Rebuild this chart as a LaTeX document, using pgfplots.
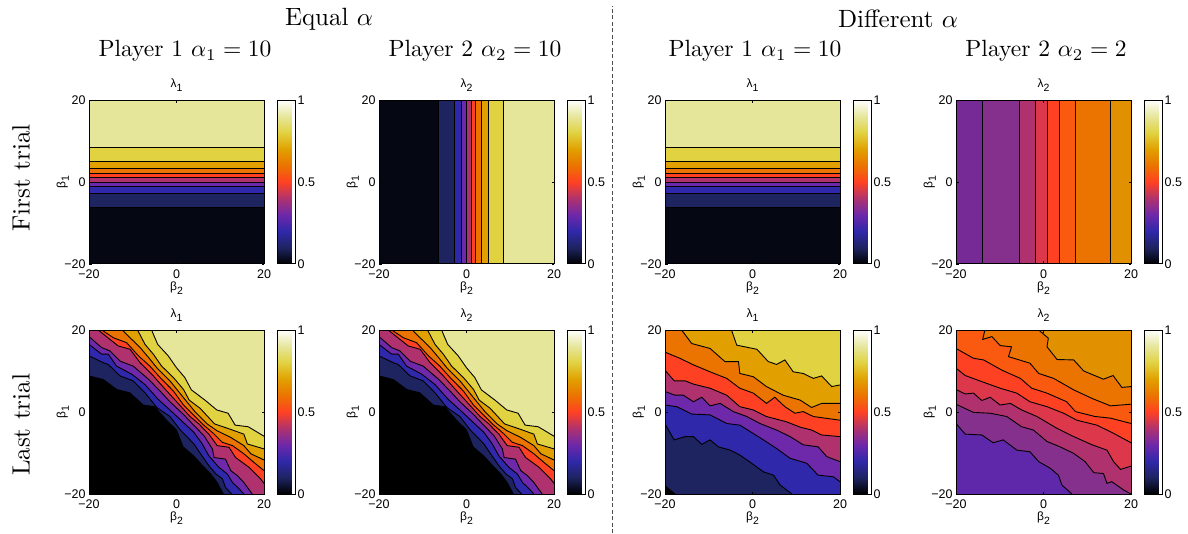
\documentclass[border=0pt]{standalone}
\usepackage{fontspec}
\usepackage{pgfplots}
\pgfplotsset{compat=1.18}
\newfontfamily\lsf{Liberation Sans}
\newcommand\tickf{\fontsize{12.5}{14}\lsf}
\newcommand\gl[2]{{\fontsize{12}{14}\lsf #1\raisebox{-3.5pt}{\fontsize{10.5}{12}\lsf #2}}}
\definecolor{k0}{RGB}{0,0,0}
\definecolor{k1}{RGB}{5,8,18}
\definecolor{cn}{RGB}{29,36,96}
\definecolor{cb}{RGB}{48,40,170}
\definecolor{cv}{RGB}{95,40,170}
\definecolor{cp}{RGB}{110,40,170}
\definecolor{cq}{RGB}{118,42,150}
\definecolor{cr}{RGB}{133,48,140}
\definecolor{cm}{RGB}{175,50,110}
\definecolor{cs}{RGB}{220,55,75}
\definecolor{ct}{RGB}{255,65,35}
\definecolor{cu}{RGB}{250,90,15}
\definecolor{co}{RGB}{235,115,0}
\definecolor{cg}{RGB}{225,160,0}
\definecolor{ch}{RGB}{225,145,0}
\definecolor{cy}{RGB}{225,210,65}
\definecolor{cw}{RGB}{230,230,155}
\pgfplotsset{
  colormap={lam}{rgb255(0)=(0,0,0) rgb255(1)=(29,36,96) rgb255(2)=(48,40,170) rgb255(3)=(110,40,170) rgb255(4)=(175,50,110) rgb255(5)=(255,65,35) rgb255(6)=(235,115,0) rgb255(7)=(225,160,0) rgb255(8)=(225,210,65) rgb255(9)=(230,230,155) rgb255(10)=(255,255,255)},
  pan/.style={
    scale only axis, width=175pt, height=164pt, anchor=south west,
    xmin=-20,xmax=20,ymin=-20,ymax=20,
    xtick={-20,0,20},ytick={-20,0,20},
    xticklabels={−20,0,20},yticklabels={−20,0,20},
    tick align=inside, major tick length=2.5pt,
    axis line style={line width=1pt}, tick style={line width=.6pt,black},
    tick label style={font=\tickf},
    xticklabel style={yshift=-2pt}, yticklabel style={xshift=0pt},
    axis on top,
    every axis title/.style={at={(axis description cs:0.5,1.09)},anchor=center},
    every axis x label/.style={at={(axis description cs:0.5,-0.146)},anchor=center},
    every axis y label/.style={at={(axis description cs:-0.15,0.5)},anchor=center,rotate=90},
    ylabel={\gl{β}{1}}, xlabel={\gl{β}{2}},
    colormap name=lam, point meta min=0, point meta max=1,
    colorbar,
    colorbar style={at={(1.075,1)},anchor=north west,width=18pt,
      ytick={0,0.5,1},yticklabels={0,0.5,1},major tick length=0pt,
      axis line style={line width=1pt},
      tick label style={font=\tickf},
      yticklabel style={xshift=-1pt}},
  }
}
\tikzset{hd/.style={anchor=center,font=\fontsize{10}{12}\selectfont,scale=#1}}
\newcommand\base[1]{\addplot[fill=#1,draw=none] coordinates {(-20,-20)(20,-20)(20,20)(-20,20)};}
\newcommand\lvl[3]{\addplot[fill=#1,draw=none] coordinates {#2 #3};\addplot[line width=.9pt,black] coordinates {#2};}
\newcommand\panelH{%
\base{k1}
\lvl{cn}{(-20,-6.3)(20,-6.3)}{(20,20)(-20,20)}
\lvl{cb}{(-20,-2.9)(20,-2.9)}{(20,20)(-20,20)}
\lvl{cp}{(-20,-1.2)(20,-1.2)}{(20,20)(-20,20)}
\lvl{cm}{(-20,-0.1)(20,-0.1)}{(20,20)(-20,20)}
\lvl{ct}{(-20,1.1)(20,1.1)}{(20,20)(-20,20)}
\lvl{co}{(-20,2)(20,2)}{(20,20)(-20,20)}
\lvl{cg}{(-20,3.3)(20,3.3)}{(20,20)(-20,20)}
\lvl{cy}{(-20,5)(20,5)}{(20,20)(-20,20)}
\lvl{cw}{(-20,8.4)(20,8.4)}{(20,20)(-20,20)}
}
\newcommand\panelV{%
\base{k1}
\lvl{cn}{(-6.4,20)(-6.4,-20)}{(20,-20)(20,20)}
\lvl{cb}{(-2.8,20)(-2.8,-20)}{(20,-20)(20,20)}
\lvl{cp}{(-1.1,20)(-1.1,-20)}{(20,-20)(20,20)}
\lvl{cm}{(0,20)(0,-20)}{(20,-20)(20,20)}
\lvl{ct}{(1.1,20)(1.1,-20)}{(20,-20)(20,20)}
\lvl{co}{(2.1,20)(2.1,-20)}{(20,-20)(20,20)}
\lvl{cg}{(3.4,20)(3.4,-20)}{(20,-20)(20,20)}
\lvl{cy}{(5,20)(5,-20)}{(20,-20)(20,20)}
\lvl{cw}{(8.4,20)(8.4,-20)}{(20,-20)(20,20)}
}
\newcommand\panelW{%
\base{cq}
\lvl{cr}{(-13.9,20)(-13.9,-20)}{(20,-20)(20,20)}
\lvl{cm}{(-5.5,20)(-5.5,-20)}{(20,-20)(20,20)}
\lvl{cs}{(-1.8,20)(-1.8,-20)}{(20,-20)(20,20)}
\lvl{ct}{(1,20)(1,-20)}{(20,-20)(20,20)}
\lvl{cu}{(3.7,20)(3.7,-20)}{(20,-20)(20,20)}
\lvl{co}{(7.4,20)(7.4,-20)}{(20,-20)(20,20)}
\lvl{ch}{(15.3,20)(15.3,-20)}{(20,-20)(20,20)}
}
\newcommand\panelA{%
\base{k0}
\lvl{cn}{(-20,8.8)(-16.7,7.9)(-13.7,5.5)(-10.7,4.7)(-7.6,1.7)(-5,1.3)(-2.3,-2)(0,-4.4)(1.5,-8.5)(3.8,-10.6)(5.9,-13)(7.8,-15.1)(9.3,-17.2)(10.7,-20)}{(20,-20)(20,20)(-20,20)}
\lvl{cb}{(-20,13.7)(-16.7,12)(-15.6,11.6)(-12.9,8.8)(-9.9,7.6)(-7.2,4.7)(-4.5,1.1)(-1.5,-1.1)(0.8,-4.3)(4,-7.8)(5.5,-10.2)(7.4,-13.1)(9,-15.1)(10.5,-16.3)(11.2,-18.4)(12.6,-20)}{(20,-20)(20,20)(-20,20)}
\lvl{cp}{(-20,16.5)(-17.1,14.1)(-15.6,14.1)(-13.7,11.2)(-10.2,9.2)(-7.2,6.7)(-4.2,3.1)(-1.5,0.5)(1.6,-2.6)(4,-5)(5.9,-7.8)(7.4,-10.7)(9.7,-13.5)(11.6,-15.1)(12.8,-17.2)(14,-18.4)(15.4,-20)}{(20,-20)(20,20)(-20,20)}
\lvl{cm}{(-20,18.4)(-17.1,15.7)(-15.2,14.9)(-12.9,12.4)(-9.9,11.2)(-6.4,8)(-3.4,4.7)(-1.5,2.5)(1.6,-0.6)(4,-3.3)(6.3,-5.8)(8.2,-9)(8.6,-11.1)(11.2,-11.5)(12.4,-14.3)(13.9,-15.5)(15.4,-17.2)(17.3,-20)}{(20,-20)(20,20)(-20,20)}
\lvl{ct}{(-17.9,20)(-15.2,17.7)(-13.3,16.1)(-10.6,15.3)(-8.3,12)(-5.3,8.8)(-2.2,5.1)(-0.3,2.9)(3.1,-1.1)(5.1,-2.9)(7.4,-5.4)(9.3,-8.2)(12,-8.6)(13.5,-11.1)(16.6,-13.5)(19.2,-16.3)(20,-17.4)}{(20,20)}
\lvl{co}{(-17.1,20)(-14.4,18.1)(-11.4,16.9)(-8.7,13.7)(-6.1,11.2)(-3.4,8)(-0.7,5.1)(1.6,1.7)(5.9,-2.9)(8.2,-5)(10.5,-7.4)(12.8,-8.2)(15.4,-10.2)(17.7,-12.3)(20,-14.3)}{(20,20)}
\lvl{cg}{(-12.4,20)(-10.6,18.1)(-8.3,15.7)(-6.4,13.3)(-4.5,10.8)(-1.5,7.6)(1.6,3.5)(4.2,0.1)(7,-2.9)(9.3,-4.6)(12.4,-6.2)(15.4,-8.2)(17,-10.2)(20,-11.7)}{(20,20)}
\lvl{cy}{(-8.9,20)(-7.2,16.5)(-5.3,14.1)(-3.4,11.2)(-0.7,8.4)(1.6,5.5)(2.9,2.9)(5.4,0.9)(8.7,-2.9)(12,-4.1)(15.4,-5.4)(16.2,-7.8)(20,-9)}{(20,20)}
\lvl{cw}{(-5.7,20)(-4.3,16.5)(-1.9,13.7)(0,10.8)(1.9,8.4)(3.4,5.4)(6.5,2.9)(9.2,0.5)(11.8,-0.3)(13.4,-3.2)(16.4,-3.6)(20,-5.9)}{(20,20)}
}
\begin{document}
\begin{tikzpicture}
\path[use as bounding box] (0pt,0pt) rectangle (1188pt,533pt);
\begin{axis}[pan,at={(89pt,269pt)},title={\gl{λ}{1}}]
\panelH
\end{axis}
\begin{axis}[pan,at={(379pt,269pt)},title={\gl{λ}{2}}]
\panelV
\end{axis}
\begin{axis}[pan,at={(665pt,269pt)},title={\gl{λ}{1}}]
\panelH
\end{axis}
\begin{axis}[pan,at={(956pt,269pt)},title={\gl{λ}{2}}]
\panelW
\end{axis}
\begin{axis}[pan,at={(89pt,39pt)},title={\gl{λ}{1}}]
\panelA
\end{axis}
\begin{axis}[pan,at={(379pt,39pt)},title={\gl{λ}{2}}]
\panelA
\end{axis}
\begin{axis}[pan,at={(665pt,39pt)},title={\gl{λ}{1}}]
\base{k0}
\lvl{cn}{(-20,-18)(-17.7,-20)}{(20,-20)(20,20)(-20,20)}
\lvl{cb}{(-20,-2.9)(-17.9,-6.8)(-15.4,-6)(-13.5,-6)(-11.6,-7.9)(-9.7,-6.8)(-7.8,-8.5)(-5.1,-9.3)(-2.9,-10.5)(-0.2,-12.5)(2.5,-14.6)(4.8,-15.4)(6.3,-17.8)(9,-20)}{(20,-20)(20,20)(-20,20)}
\lvl{cp}{(-20,1.7)(-17.3,1.3)(-13.9,-0.5)(-9.7,-0.7)(-5.9,-2.8)(-2.9,-3.2)(2.5,-6.8)(5.5,-8.9)(8.6,-11.3)(12.4,-12.5)(15,-15.4)(18.5,-15.8)(20,-17)}{(20,20)(-20,20)}
\lvl{cm}{(-20,5)(-17.7,4.1)(-15.8,4.1)(-13.5,2.5)(-11.6,3.6)(-9.7,1.5)(-7.4,2.1)(-4.4,0.1)(-1.3,-1.1)(1.7,-2.8)(5.5,-4.4)(8.6,-6)(11.6,-8)(15,-8.5)(17,-10.9)(20,-12.1)}{(20,20)(-20,20)}
\lvl{ct}{(-20,10.2)(-17.9,7.6)(-15.4,7.6)(-13.5,6.8)(-9.7,5.8)(-5.9,4.1)(-2.9,1.3)(0.2,0.5)(3.2,-1.1)(7.8,-2.4)(10.9,-3.7)(13.5,-4.4)(15.8,-5.6)(20,-6)}{(20,20)(-20,20)}
\lvl{co}{(-20,14.6)(-16.6,13.1)(-13.5,11.5)(-9.7,9.8)(-5.9,8.2)(-2.9,5.8)(0.2,4.6)(3.2,2.1)(5.1,3.6)(7.4,1.3)(9.7,-0.3)(11.6,0.1)(13.9,-1.1)(20,-2)}{(20,20)(-20,20)}
\lvl{cg}{(-16.2,20)(-13.9,16.7)(-9.7,15.5)(-6.3,12.3)(-3.2,12.3)(-2.9,9.4)(0.2,8.6)(3.2,6.2)(7,4.1)(10.9,2.9)(13.5,1.1)(15.8,2.1)(20,2.1)}{(20,20)}
\lvl{cy}{(-4.8,20)(-3.6,16.3)(1,15.3)(3.6,12.3)(5.5,11.6)(7.4,12.7)(9.3,9.8)(11.6,9.4)(13.9,8.2)(15.8,8.8)(18.1,6.2)(20,6.6)}{(20,20)}
\end{axis}
\begin{axis}[pan,at={(956pt,39pt)},title={\gl{λ}{2}}]
\base{cv}
\lvl{cr}{(-20,-2.8)(-17.9,-5.4)(-14.1,-5.6)(-11.5,-7.5)(-9.2,-6.8)(-6.1,-9.3)(-3.1,-9.7)(-1.1,-12.1)(1.5,-13.7)(3.4,-15.4)(4.2,-17.8)(6.5,-20)}{(20,-20)(20,20)(-20,20)}
\lvl{cm}{(-20,1.9)(-16,-0.1)(-12.2,-0.3)(-8.4,-1.1)(-5,-3.6)(-2.3,-4.4)(0.8,-7.2)(3.8,-8.5)(6.9,-10.1)(9.5,-12.1)(11.5,-14.8)(13.7,-15)(14.5,-17.4)(15.6,-17)(18.3,-19)(20,-20)}{(20,20)(-20,20)}
\lvl{cs}{(-20,5.5)(-17.9,4.4)(-16,4.6)(-14.1,2.8)(-12.2,3.6)(-9.9,1.7)(-7.6,2.1)(-5,0.5)(-1.5,-1.1)(3.1,-4)(6.9,-6)(11.1,-8)(14.5,-9.3)(16,-12.1)(17.6,-14)(20,-13.2)}{(20,20)(-20,20)}
\lvl{ct}{(-20,10.7)(-17.9,8.9)(-14.1,7.4)(-9.9,5.8)(-6.1,4.6)(-3.1,2.5)(0.8,1.3)(4.6,-0.3)(7.6,-2)(12.2,-3.2)(16,-5.2)(20,-7.5)}{(20,20)(-20,20)}
\lvl{cu}{(-20,15.5)(-16,13.1)(-13.7,12.7)(-9.5,10.2)(-5.3,8.2)(-2.7,5.8)(0.8,4.6)(5.3,2.5)(7.3,0.1)(11.8,-1.1)(15.3,-1.5)(20,-2.8)}{(20,20)(-20,20)}
\lvl{co}{(-13.4,20)(-13.9,17.7)(-11.8,18.4)(-9.9,16.2)(-7.3,15.9)(-8,13.5)(-3.1,11.9)(-1.1,9.4)(2.3,8.2)(6.9,5.4)(11.1,3.3)(15.3,1.5)(20,1.9)}{(20,20)}
\lvl{ch}{(-1.1,20)(1.1,18)(0.8,15.9)(3.1,12.8)(6.9,12.7)(9.2,10)(13.7,8)(15.9,8.9)(17.9,6)(20,6.2)}{(20,20)}
\end{axis}
\node[hd=2.5] at (329pt,514pt) {Equal $\alpha$};
\node[hd=2.5] at (898pt,514pt) {Different $\alpha$};
\node[hd=2.35] at (185pt,482pt) {Player 1 $\alpha_1=10$};
\node[hd=2.35] at (475pt,482pt) {Player 2 $\alpha_2=10$};
\node[hd=2.35] at (755pt,482pt) {Player 1 $\alpha_1=10$};
\node[hd=2.35] at (1046pt,482pt) {Player 2 $\alpha_2=2$};
\node[hd=2.5,rotate=90] at (21pt,355pt) {First trial};
\node[hd=2.5,rotate=90] at (21pt,108pt) {Last trial};
\draw[black!70,line width=1pt,dash pattern=on 4pt off 2.5pt] (612pt,0pt) -- (612pt,527pt);
\end{tikzpicture}
\end{document}
